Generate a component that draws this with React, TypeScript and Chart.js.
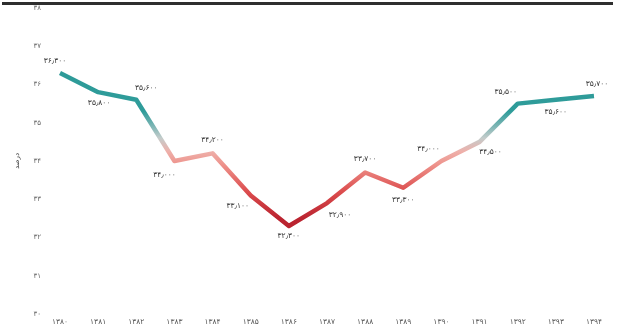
import React, { useEffect, useRef } from "react";
import { Chart, registerables } from "chart.js";

Chart.register(...registerables);

// Years (Solar Hijri) and the share values, in percent
const years = [
  "۱۳۸۰", "۱۳۸۱", "۱۳۸۲", "۱۳۸۳", "۱۳۸۴", "۱۳۸۵", "۱۳۸۶", "۱۳۸۷",
  "۱۳۸۸", "۱۳۸۹", "۱۳۹۰", "۱۳۹۱", "۱۳۹۲", "۱۳۹۳", "۱۳۹۴",
];
const shares = [
  36.3, 35.8, 35.6, 34.0, 34.2, 33.1, 32.3, 32.9, 33.7, 33.3, 34.0, 34.5,
  35.5, 35.6, 35.7,
];
const yMin = 30;
const yMax = 38;
const yTitle = "درصد";

// Where each value label sits relative to its point: [dx, dy]
const labelOffsets: [number, number][] = [
  [-5, -12], [1, 11], [10, -12], [-10, 14], [0, -13], [-13, 11], [0, 10],
  [13, 12], [0, -13], [0, 12], [-13, -12], [11, 10], [-12, -12], [0, 12],
  [3, -12],
];

// Colour of the line by value: teal for high values, red for low ones
const colourStops: [number, string][] = [
  [38, "#2a9896"],
  [35.3, "#2f9c9a"],
  [34.9, "#7fb6b5"],
  [34.6, "#c4cccb"],
  [34.25, "#eeb0aa"],
  [33.9, "#ee928b"],
  [33.2, "#dc4d4e"],
  [32.5, "#bb2430"],
  [30, "#a81826"],
];

const FONT = "'DejaVu Sans', sans-serif";

const persianDigits = "۰۱۲۳۴۵۶۷۸۹";
const toPersian = (s: string) =>
  s.replace(/[0-9]/g, (d) => persianDigits[Number(d)]).replace(".", "٫");

const valueLabels = {
  id: "valueLabels",
  afterDatasetsDraw(chart: Chart) {
    const { ctx } = chart;
    const meta = chart.getDatasetMeta(0);
    ctx.save();
    ctx.font = `7.5px ${FONT}`;
    ctx.fillStyle = "#333";
    ctx.textAlign = "center";
    ctx.textBaseline = "middle";
    meta.data.forEach((pt, i) => {
      const [dx, dy] = labelOffsets[i] || [0, -12];
      ctx.fillText(toPersian(shares[i].toFixed(3)), pt.x + dx, pt.y + dy);
    });
    ctx.restore();
  },
};

export default function App() {
  const canvasRef = useRef<HTMLCanvasElement | null>(null);

  useEffect(() => {
    const canvas = canvasRef.current;
    if (!canvas) return;
    const chart = new Chart(canvas, {
      type: "line",
      data: {
        labels: years,
        datasets: [
          {
            data: shares,
            borderWidth: 4.5,
            pointRadius: 0,
            tension: 0,
            borderJoinStyle: "round",
            borderCapStyle: "butt",
            fill: false,
            borderColor: (context: any) => {
              const { chart: c } = context;
              const { chartArea, scales } = c;
              if (!chartArea) return "#2a9896";
              const top = scales.y.getPixelForValue(yMax);
              const bottom = scales.y.getPixelForValue(yMin);
              const g = c.ctx.createLinearGradient(0, top, 0, bottom);
              colourStops.forEach(([v, col]) => {
                g.addColorStop((yMax - v) / (yMax - yMin), col);
              });
              return g;
            },
          },
        ],
      },
      options: {
        animation: false,
        responsive: false,
        maintainAspectRatio: false,
        layout: { padding: { top: 8, right: 28, left: 0, bottom: 0 } },
        plugins: {
          legend: { display: false },
          tooltip: { enabled: false },
        },
        scales: {
          x: {
            offset: false,
            grid: { display: false, drawTicks: false },
            border: { display: false },
            ticks: {
              color: "#555",
              font: { family: FONT, size: 7.5 },
              padding: 4,
              maxRotation: 0,
              autoSkip: false,
            },
            afterFit: (axis: any) => {
              axis.height = 19;
            },
          },
          y: {
            min: yMin,
            max: yMax,
            grid: {
              display: true,
              drawOnChartArea: false,
              drawTicks: true,
              tickLength: 17,
              tickColor: "rgba(0,0,0,0)",
              color: "rgba(0,0,0,0)",
            },
            border: { display: false },
            ticks: {
              stepSize: 1,
              color: "#666",
              font: { family: FONT, size: 7 },
              padding: 2,
              callback: (v: any) => toPersian(String(v)),
            },
            title: {
              display: true,
              text: yTitle,
              color: "#444",
              font: { family: FONT, size: 7 },
              padding: { top: 13, bottom: 0 },
            },
            afterFit: (axis: any) => {
              axis.width = 60;
            },
          },
        },
      },
      plugins: [valueLabels],
    });
    return () => chart.destroy();
  }, []);

  return (
    <div
      style={{
        position: "fixed",
        left: 0,
        top: 0,
        width: 622,
        height: 333,
        background: "#fff",
        overflow: "hidden",
      }}
    >
      <div
        style={{
          position: "absolute",
          left: 2,
          top: 2,
          width: 611,
          height: 3,
          background: "#2e2e2e",
        }}
      />
      <canvas
        ref={canvasRef}
        width={622}
        height={333}
        style={{ position: "absolute", left: 0, top: 0, width: 622, height: 333 }}
      />
    </div>
  );
}
